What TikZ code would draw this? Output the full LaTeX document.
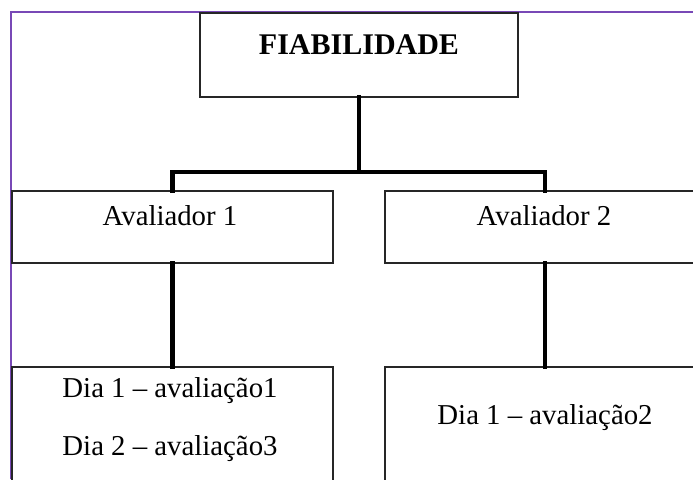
\documentclass[tikz,border=0pt]{standalone}
\usepackage{fontspec}
\setmainfont{Liberation Serif}
\definecolor{frame}{RGB}{120,72,182}
\begin{document}
\begin{tikzpicture}[x=1pt,y=-1pt,
  box/.style={draw=black!85,line width=1.4pt,fill=none,inner sep=0pt},
  conn/.style={draw=black,line width=4.5pt,line join=miter,line cap=rect},
  lbl/.style={inner sep=0pt,font=\fontsize{28.8}{30}\selectfont},
  bigl/.style={inner sep=0pt,font=\fontsize{30}{32}\selectfont\bfseries}]
\useasboundingbox (0,0) rectangle (693,479);
\fill[white] (0,0) rectangle (693,479);
\clip (0,0) rectangle (693,479);
% frame
\draw[frame,line width=2pt] (11,479) -- (11,12) -- (693,12);
% boxes
\node[box,minimum width=318pt,minimum height=84pt] (fia) at (359,55) {};
\node[box,minimum width=321pt,minimum height=72pt] (av1) at (172.5,227) {};
\node[box,minimum width=320pt,minimum height=72pt] (av2) at (545,227) {};
\node[box,minimum width=321pt,minimum height=153pt] (d1) at (172.5,443.5) {};
\node[box,minimum width=320pt,minimum height=153pt] (d2) at (545,443.5) {};
% texts
\node[bigl] (fiat) at (359,45) {FIABILIDADE};
\node[lbl] (av1t) at (170,216) {Avaliador 1};
\node[lbl] (av2t) at (544,216) {Avaliador 2};
\node[lbl] (d1a) at (170,391) {Dia 1 – avaliação1};
\node[lbl] (d1b) at (170,449) {Dia 2 – avaliação3};
\node[lbl] (d2a) at (545,418) {Dia 1 – avaliação2};
% connectors
\coordinate (bus) at (359,172);
\draw[conn] (fia.south) -- (bus);
\draw[conn] (av1.north) |- (bus) -| (av2.north);
\draw[conn] (av1.south) -- (d1.north);
\draw[conn] (av2.south) -- (d2.north);
\end{tikzpicture}
\end{document}
